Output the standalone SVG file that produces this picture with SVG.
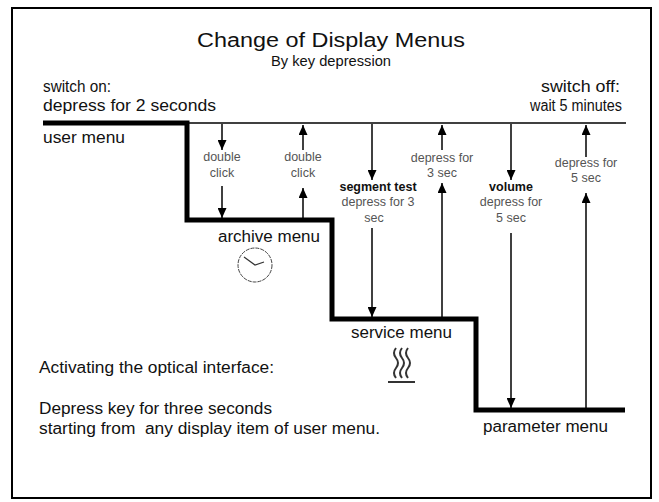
<svg xmlns="http://www.w3.org/2000/svg" width="659" height="502" viewBox="0 0 659 502">
<defs>
<style>
text{font-family:"Liberation Sans",Arial,sans-serif;fill:#111}
.t{font-size:20px}
.s{font-size:14px}
.m{font-size:16px}
.l{font-size:12.5px;fill:#555;text-anchor:middle}
.b{font-size:12.5px;font-weight:bold;text-anchor:middle;fill:#111}
.c{text-anchor:middle}
.thin{stroke:#000;stroke-width:1.5;fill:none}
.arr{stroke:#000;stroke-width:1.5;fill:none;marker-end:url(#ah)}
</style>
<marker id="ah" viewBox="0 0 10 9" refX="10" refY="4.5" markerWidth="10" markerHeight="9" markerUnits="userSpaceOnUse" orient="auto">
<path d="M0,0 L10,4.5 L0,9 z" fill="#000"/>
</marker>
</defs>
<rect x="0" y="0" width="659" height="502" fill="#fff"/>
<rect x="12" y="8" width="639" height="490" fill="none" stroke="#000" stroke-width="2"/>

<g id="title">
<text class="t c" x="331" y="47" textLength="268" lengthAdjust="spacingAndGlyphs">Change of Display Menus</text>
<text class="s c" x="331" y="66" textLength="120" lengthAdjust="spacingAndGlyphs">By key depression</text>
</g>

<g id="switch-on">
<text class="m" x="43" y="92" textLength="68" lengthAdjust="spacingAndGlyphs">switch on:</text>
<text class="m" x="43" y="111" textLength="173" lengthAdjust="spacingAndGlyphs">depress for 2 seconds</text>
</g>
<g id="switch-off">
<text class="m" x="541" y="92" textLength="79" lengthAdjust="spacingAndGlyphs">switch off:</text>
<text class="m" x="530" y="111" textLength="92" lengthAdjust="spacingAndGlyphs">wait 5 minutes</text>
</g>

<g id="levels">
<line class="thin" x1="43" y1="123" x2="626" y2="123"/>
<polyline points="43,123 187,123 187,220 332,220 332,319 476,319 476,410 625,410" fill="none" stroke="#000" stroke-width="5" stroke-linejoin="miter"/>
</g>

<g id="user-menu">
<text class="m" x="43" y="143" textLength="82" lengthAdjust="spacingAndGlyphs">user menu</text>
</g>

<g id="archive-menu">
<text class="m" x="218" y="242" textLength="102" lengthAdjust="spacingAndGlyphs">archive menu</text>
<circle cx="255" cy="265" r="17" fill="none" stroke="#444" stroke-width="1" stroke-dasharray="4 1"/>
<polyline points="244,257 255,265 264,262" fill="none" stroke="#333" stroke-width="1.2"/>
</g>

<g id="service-menu">
<text class="m" x="351" y="338" textLength="101" lengthAdjust="spacingAndGlyphs">service menu</text>
<g fill="none" stroke="#333" stroke-width="2">
<path d="M396,348 q-4,5 0,10 q4,5 0,10 q-4,5 0,10"/>
<path d="M402,348 q-4,5 0,10 q4,5 0,10 q-4,5 0,10"/>
<path d="M408,348 q-4,5 0,10 q4,5 0,10 q-4,5 0,10"/>
<line x1="388" y1="382" x2="415" y2="382"/>
</g>
</g>

<g id="parameter-menu">
<text class="m" x="483" y="432" textLength="125" lengthAdjust="spacingAndGlyphs">parameter menu</text>
</g>

<g id="optical-note">
<text class="m" x="39" y="373" textLength="235" lengthAdjust="spacingAndGlyphs">Activating the optical interface:</text>
<text class="m" x="39" y="414" textLength="233" lengthAdjust="spacingAndGlyphs">Depress key for three seconds</text>
<text class="m" x="39" y="434" textLength="341" lengthAdjust="spacingAndGlyphs" xml:space="preserve" style="white-space:pre">starting from  any display item of user menu.</text>
</g>

<g id="connectors">
<line class="arr" x1="222" y1="124" x2="222" y2="150"/>
<line class="arr" x1="222" y1="186" x2="222" y2="218"/>
<line class="arr" x1="303" y1="218" x2="303" y2="188"/>
<line class="arr" x1="303" y1="150" x2="303" y2="125"/>
<line class="arr" x1="372" y1="124" x2="372" y2="180"/>
<line class="arr" x1="372" y1="228" x2="372" y2="317"/>
<line class="arr" x1="442" y1="317" x2="442" y2="183"/>
<line class="arr" x1="442" y1="150" x2="442" y2="125"/>
<line class="arr" x1="511" y1="124" x2="511" y2="180"/>
<line class="arr" x1="511" y1="233" x2="511" y2="408"/>
<line class="arr" x1="586" y1="408" x2="586" y2="193"/>
<line class="arr" x1="586" y1="157" x2="586" y2="125"/>
</g>

<g id="labels">
<text class="l" x="222" y="161">double</text>
<text class="l" x="222" y="177">click</text>
<text class="l" x="303" y="161">double</text>
<text class="l" x="303" y="177">click</text>
<text class="b" x="378" y="191">segment test</text>
<text class="l" x="378" y="206">depress for 3</text>
<text class="l" x="374" y="222">sec</text>
<text class="l" x="442" y="162">depress for</text>
<text class="l" x="442" y="177">3 sec</text>
<text class="b" x="511" y="191">volume</text>
<text class="l" x="511" y="206">depress for</text>
<text class="l" x="511" y="222">5 sec</text>
<text class="l" x="586" y="167">depress for</text>
<text class="l" x="586" y="182">5 sec</text>
</g>
</svg>
